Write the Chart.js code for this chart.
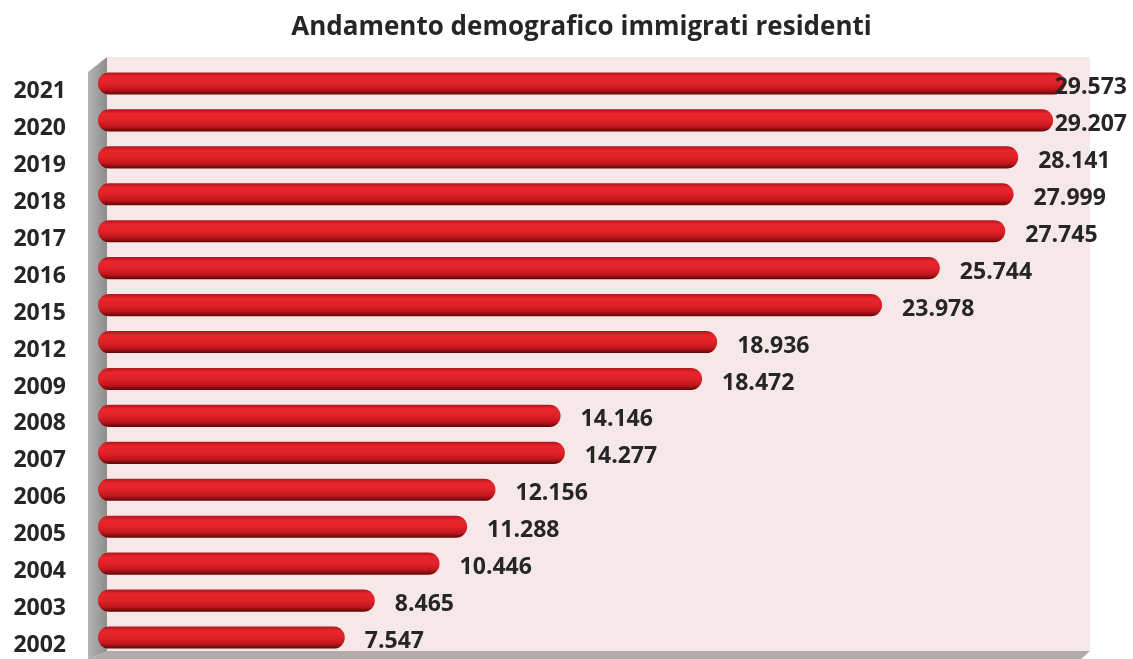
<!DOCTYPE html>
<html>
<head>
<meta charset="utf-8">
<title>Andamento demografico immigrati residenti</title>
<script src="https://cdn.jsdelivr.net/npm/chart.js@4"></script>
<style>
  html, body { margin: 0; padding: 0; background: #fff; overflow: hidden; }
  canvas { display: block; }
</style>
</head>
<body>
<canvas id="chart" width="1133" height="659"></canvas>
<script>
const years = ['2021', '2020', '2019', '2018', '2017', '2016', '2015', '2012',
               '2009', '2008', '2007', '2006', '2005', '2004', '2003', '2002'];
const residents = [29573, 29207, 28141, 27999, 27745, 25744, 23978, 18936,
                   18472, 14146, 14277, 12156, 11288, 10446, 8465, 7547];
const chartTitle = 'Andamento demografico immigrati residenti';

const textColor = '#262626';
const fontFamily = "'Open Sans', 'Liberation Sans', sans-serif";

function formatNum(v) {
    return String(v).replace(/\B(?=(\d{3})+(?!\d))/g, '.');
}

// cylinder look: dark edges, bright band near the top
function barFill(context) {
    const chart = context.chart;
    const yScale = chart.scales.y;
    if (!chart.chartArea || !yScale) return '#d41c22';
    const y = yScale.getPixelForValue(context.dataIndex);
    const g = chart.ctx.createLinearGradient(0, y - 11, 0, y + 11);
    g.addColorStop(0, '#b0161c');
    g.addColorStop(0.2, '#e8262c');
    g.addColorStop(0.5, '#e02228');
    g.addColorStop(0.78, '#c0161c');
    g.addColorStop(1, '#600606');
    return g;
}

// grey side wall, pink back wall and floor of the 3D frame
const framePlugin = {
    id: 'frame',
    beforeDraw(chart) {
        const { ctx, chartArea } = chart;
        const l = chartArea.left, r = chartArea.right, t = chartArea.top, b = chartArea.bottom;
        ctx.save();
        // back wall
        ctx.fillStyle = '#f6e8e8';
        ctx.fillRect(l + 9, t - 8, r + 11 - (l + 9), b - 5 - (t - 8));
        // side wall
        const sg = ctx.createLinearGradient(l - 10, 0, l + 9, 0);
        sg.addColorStop(0, '#b4b4b4');
        sg.addColorStop(1, '#8c8c8c');
        ctx.fillStyle = sg;
        ctx.beginPath();
        ctx.moveTo(l - 10, t + 7);
        ctx.lineTo(l + 9, t - 8);
        ctx.lineTo(l + 9, b - 5);
        ctx.lineTo(l - 10, b + 4);
        ctx.closePath();
        ctx.fill();
        // floor
        ctx.fillStyle = '#b3abab';
        ctx.beginPath();
        ctx.moveTo(l - 10, b + 4);
        ctx.lineTo(l + 9, b - 5);
        ctx.lineTo(r + 11, b - 5);
        ctx.lineTo(r + 1, b + 4);
        ctx.closePath();
        ctx.fill();
        ctx.restore();
    },
    // title centred over the back wall
    afterDraw(chart) {
        const { ctx, chartArea } = chart;
        ctx.save();
        ctx.font = 'bold 26px ' + fontFamily;
        ctx.fillStyle = textColor;
        ctx.textAlign = 'center';
        ctx.textBaseline = 'middle';
        ctx.fillText(chartTitle, (chartArea.left + chartArea.right) / 2 - 7, 28);
        ctx.restore();
    }
};

// value labels at the end of each bar
const valueLabels = {
    id: 'valueLabels',
    afterDatasetsDraw(chart) {
        const { ctx } = chart;
        const meta = chart.getDatasetMeta(0);
        ctx.save();
        ctx.font = 'bold 23px ' + fontFamily;
        ctx.fillStyle = textColor;
        ctx.textBaseline = 'middle';
        ctx.textAlign = 'left';
        meta.data.forEach((bar, i) => {
            const txt = formatNum(residents[i]);
            const w = ctx.measureText(txt).width;
            let x = bar.x + 20;
            let y = bar.y + 4;
            if (x + w > chart.width - 6) {
                x = chart.width - 6 - w;
            }
            ctx.fillText(txt, x, y);
        });
        ctx.restore();
    }
};

new Chart(document.getElementById('chart'), {
    type: 'bar',
    data: {
        labels: years,
        datasets: [{
            data: residents,
            backgroundColor: barFill,
            borderWidth: 0,
            borderRadius: 11,
            borderSkipped: false,
            categoryPercentage: 1,
            barPercentage: 0.6
        }]
    },
    options: {
        indexAxis: 'y',
        responsive: false,
        animation: false,
        layout: {
            padding: { top: 65, right: 54, bottom: 3, left: 0 }
        },
        plugins: {
            legend: { display: false },
            tooltip: { enabled: false },
            title: { display: false }
        },
        scales: {
            x: {
                display: false,
                min: 0,
                max: 30000
            },
            y: {
                grid: { display: false, drawTicks: false },
                border: { display: false },
                ticks: {
                    color: textColor,
                    font: { family: fontFamily, size: 23, weight: 'bold' },
                    padding: 32,
                    labelOffset: 8
                },
                afterFit(scale) {
                    scale.width = 98;
                    scale.paddingTop = 0;
                    scale.paddingBottom = 0;
                }
            }
        }
    },
    plugins: [framePlugin, valueLabels]
});
</script>
</body>
</html>
